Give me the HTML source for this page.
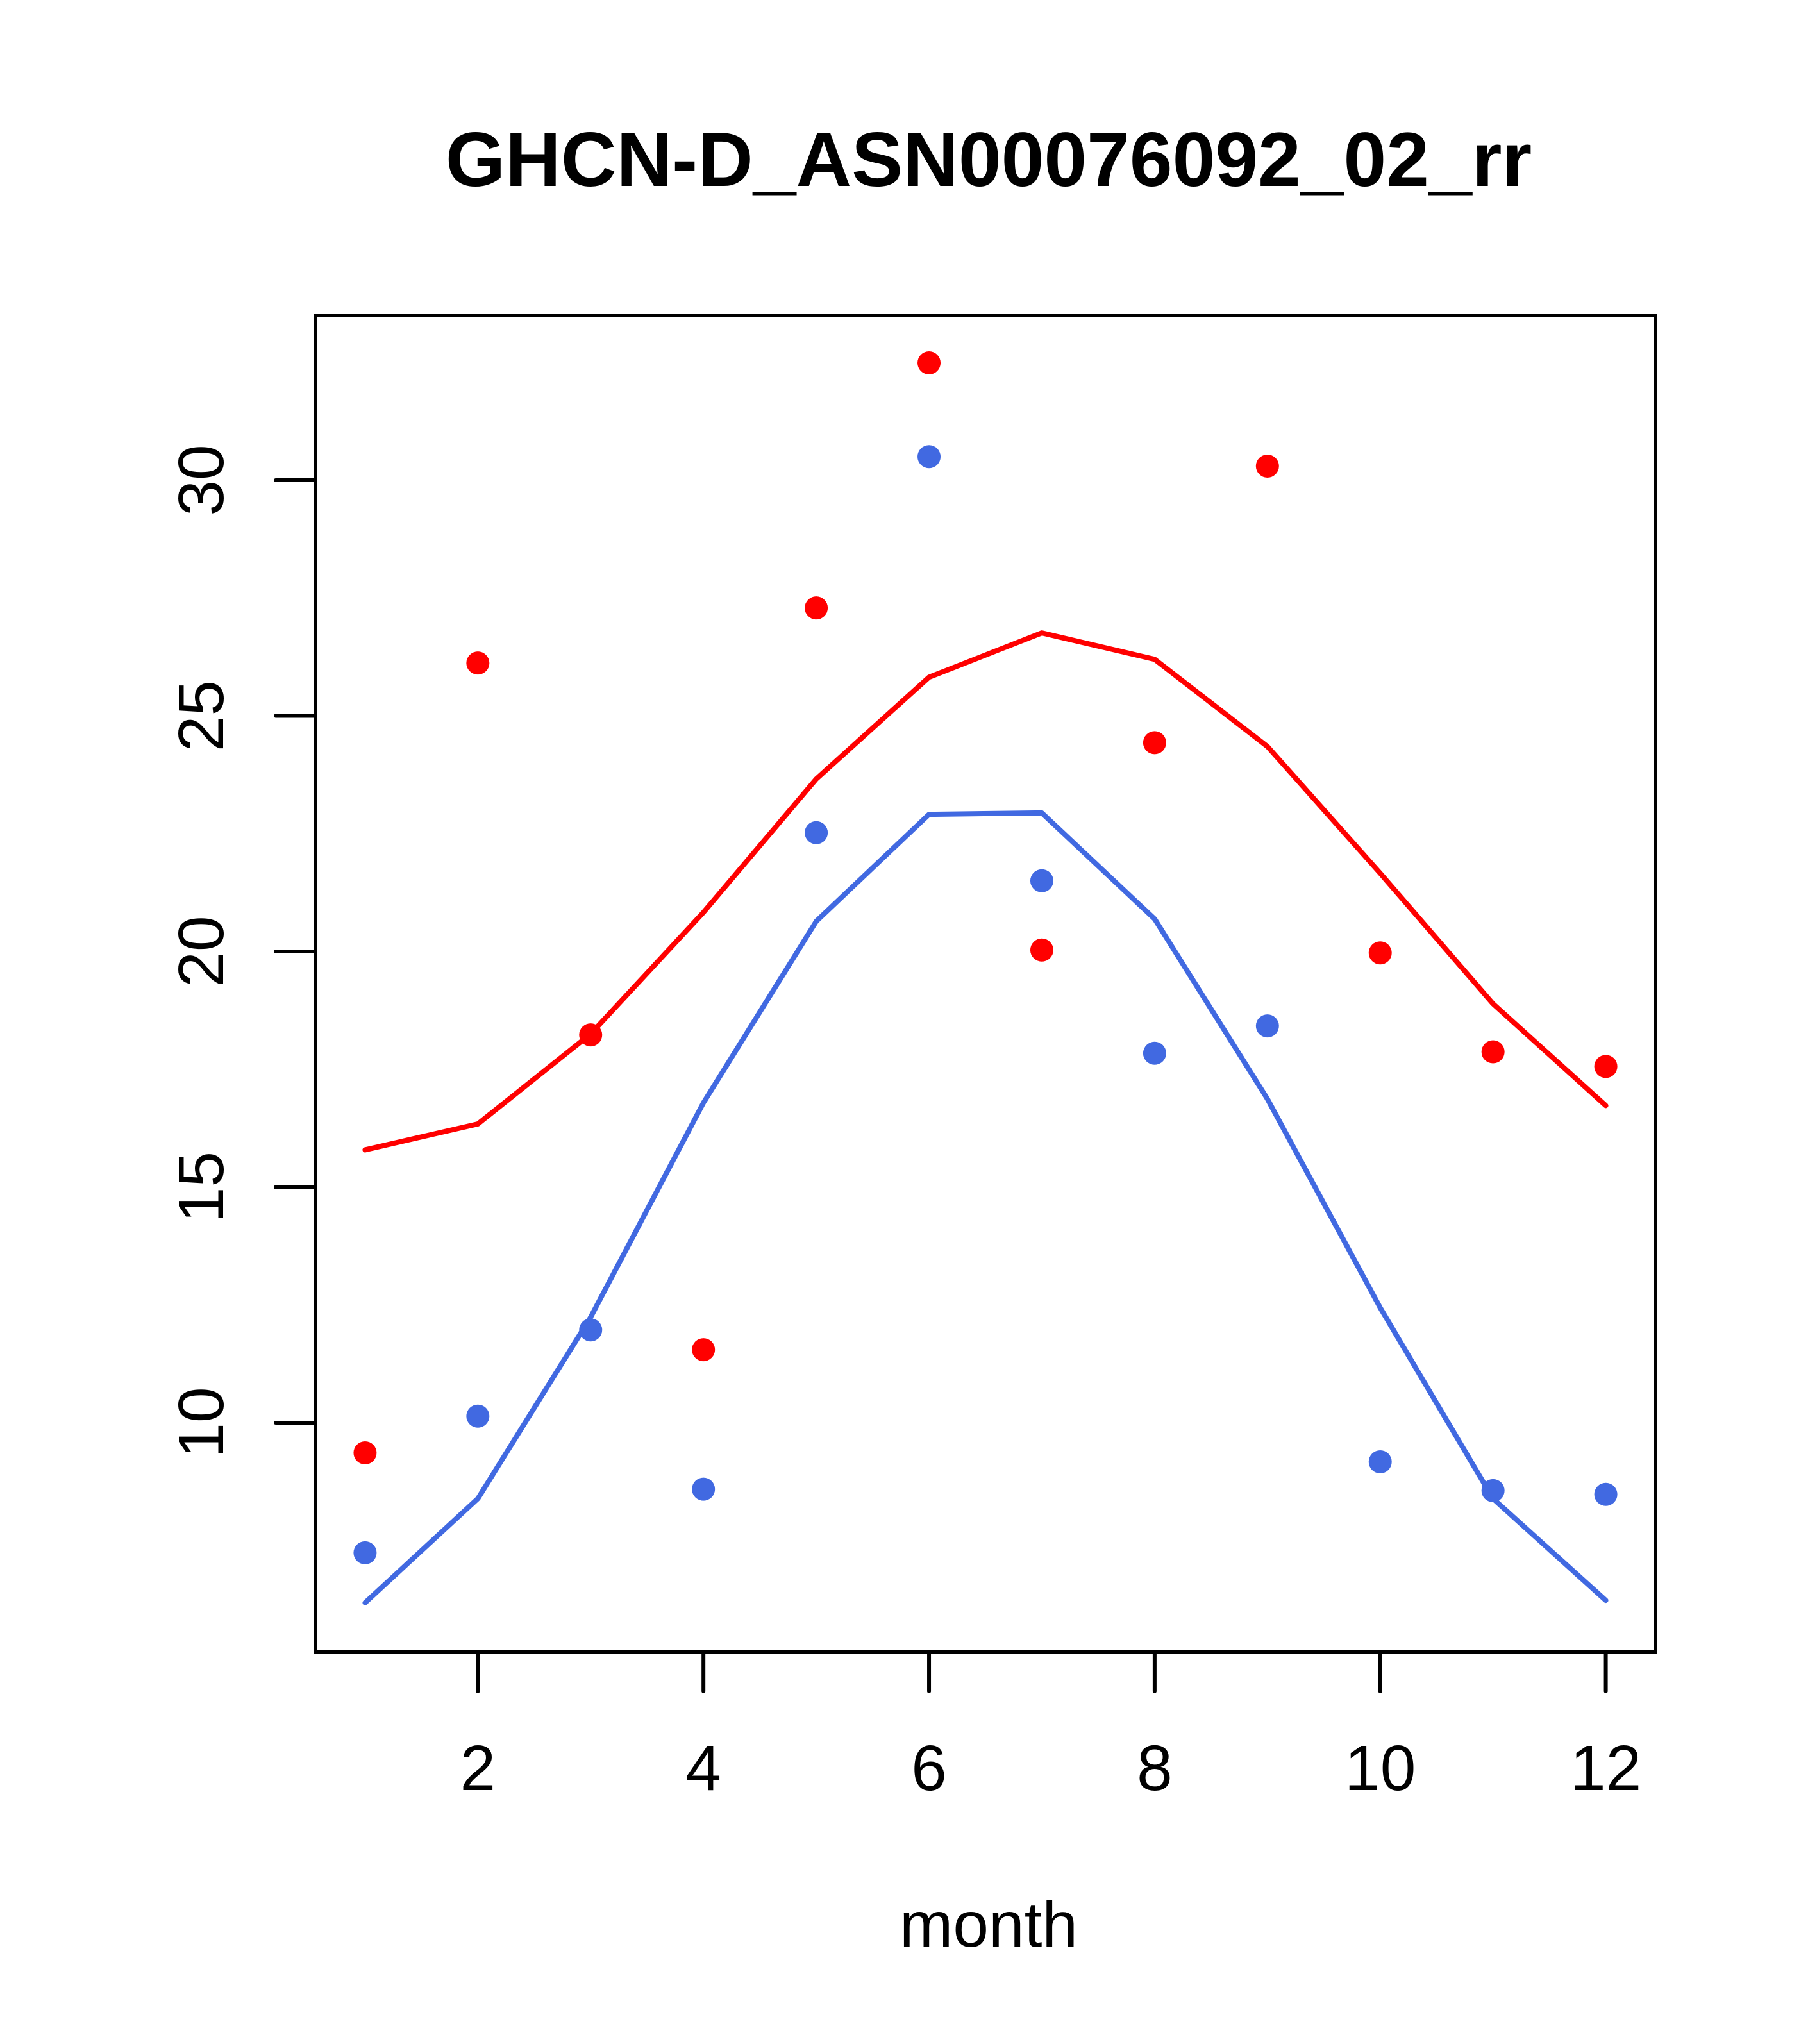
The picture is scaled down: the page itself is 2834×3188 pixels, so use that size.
<!DOCTYPE html>
<html><head><meta charset="utf-8"><style>html,body{margin:0;padding:0;background:#fff}svg{display:block}</style></head>
<body>
<svg id="chart" width="2834" height="3188" xmlns="http://www.w3.org/2000/svg" font-family="'Liberation Sans', sans-serif">
<rect width="2834" height="3188" fill="#fff"/>
<text x="1542" y="290" font-size="120" font-weight="bold" text-anchor="middle">GHCN-D_ASN00076092_02_rr</text>
<text x="1542" y="3036" font-size="100" text-anchor="middle">month</text>
<g id="plot"></g>
</svg>
<script>
const months = [1,2,3,4,5,6,7,8,9,10,11,12];
const redPoints = [9.36,26.12,18.23,11.55,27.29,32.49,20.03,24.43,30.30,19.97,17.87,17.56];
const redLine = [15.79,16.34,18.25,20.83,23.66,25.82,26.76,26.20,24.35,21.66,18.89,16.73];
const bluePoints = [7.24,10.14,11.97,8.59,22.52,30.50,21.50,17.84,18.42,9.17,8.56,8.48];
const blueLine = [6.18,8.39,12.24,16.79,20.64,22.91,22.94,20.69,16.87,12.44,8.39,6.23];
const xTicks = [2,4,6,8,10,12];
const yTicks = [10,15,20,25,30];

const NS = "http://www.w3.org/2000/svg";
const L = 492, R = 2582, T = 492, B = 2576;
const x = m => L + (m - 0.56) * (R - L) / 11.88;
const y = v => 749 - (v - 30) * 73.5;
const g = document.getElementById('plot');
function mk(tag, attrs) { const e = document.createElementNS(NS, tag); for (const k in attrs) e.setAttribute(k, attrs[k]); g.appendChild(e); return e; }

const box = mk('rect', {x:L, y:T, width:R-L, height:B-T, fill:'none', stroke:'#000', 'stroke-width':6});



xTicks.forEach(t => {
  const tk = mk('line', {x1:x(t), x2:x(t), y1:B, y2:B+62, stroke:'#000', 'stroke-width':6, 'stroke-linecap':'round'});
  
  
  const lb = mk('text', {x:x(t), y:2792, 'font-size':100, 'text-anchor':'middle'});
  lb.textContent = t;
  
  
});
yTicks.forEach(t => {
  const tk = mk('line', {x1:L-62, x2:L, y1:y(t), y2:y(t), stroke:'#000', 'stroke-width':6, 'stroke-linecap':'round'});
  
  
  const lb = mk('text', {x:0, y:0, 'font-size':100, 'text-anchor':'middle', transform:`translate(348,${y(t)}) rotate(-90)`});
  lb.textContent = t;
  
  
});

function line(vals, color, name) {
  const p = mk('polyline', {points: months.map((m,i)=>x(m)+','+y(vals[i])).join(' '), fill:'none', stroke:color, 'stroke-width':8, 'stroke-linecap':'round', 'stroke-linejoin':'round'});
  
  
}
function pts(vals, color, name) {
  months.forEach((m,i) => {
    const c = mk('circle', {cx:x(m), cy:y(vals[i]), r:18, fill:color});
    
    
  });
}
line(redLine, '#FF0000', 'red-line');
line(blueLine, '#4169E1', 'blue-line');
pts(redPoints, '#FF0000', 'red-point');
pts(bluePoints, '#4169E1', 'blue-point');
</script>
</body></html>
